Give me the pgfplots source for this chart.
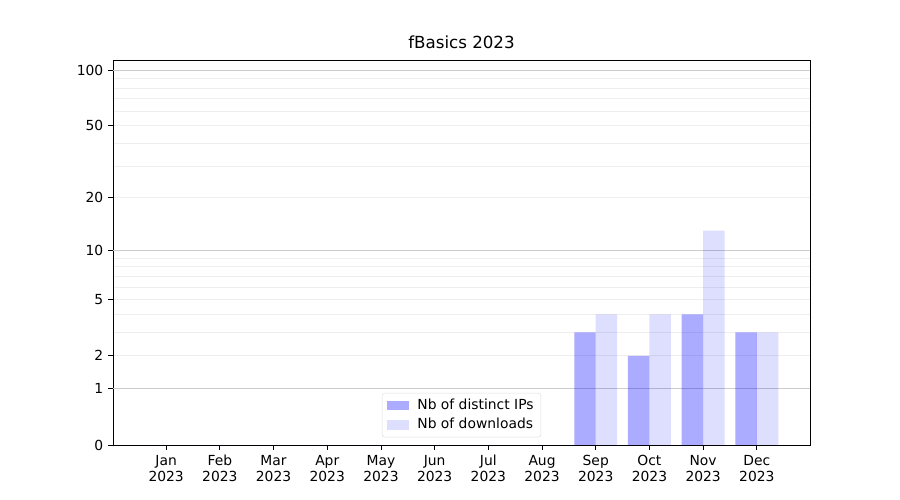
\documentclass[border=0pt]{standalone}
\usepackage{fontspec}
\setmainfont{DejaVu Sans}
\usepackage{pgfplots}
\pgfplotsset{compat=1.18}
\begin{document}
\fontsize{10.4}{12.5}\selectfont
\begin{tikzpicture}[x=0.75pt,y=0.75pt]
\begin{axis}[
  scale only axis,
  width=522.75pt, height=288.75pt,
  xmin=-0.99, xmax=11.99,
  ymin=0, ymax=113.5,
  y coord trafo/.code={\pgfmathparse{log10(1+#1)}},
  y coord inv trafo/.code={\pgfmathparse{10^(#1)-1}},
  ytick={0,1,2,5,10,20,50,100},
  yticklabels={0,1,2,5,10,20,50,100},
  minor ytick={2,3,4,5,6,7,8,9,20,30,40,50,60,70,80,90},
  yminorgrids,
  minor tick length=0pt,
  minor grid style={gray!13, line width=0.6pt},
  extra y ticks={1,10,100},
  extra y tick labels={},
  extra y tick style={grid=major, major grid style={gray!40, line width=0.6pt}},
  xtick={0,...,11},
  xticklabels={{\strut Jan\\2023},{\strut Feb\\2023},{\strut Mar\\2023},{\strut Apr\\2023},{\strut May\\2023},{\strut Jun\\2023},{\strut Jul\\2023},{\strut Aug\\2023},{\strut Sep\\2023},{\strut Oct\\2023},{\strut Nov\\2023},{\strut Dec\\2023}},
  xticklabel style={align=center, font=\fontsize{10.4}{12}\selectfont, inner ysep=1.5pt, yshift=-2pt},
  yticklabel style={font=\fontsize{10.4}{12.5}\selectfont},
  /pgf/number format/assume math mode=true,
  tick align=outside,
  major tick length=3.6pt,
  xtick pos=bottom, ytick pos=left,
  tick style={black, line width=0.6pt},
  axis line style={line width=0.6pt},
  title={fBasics 2023},
  title style={font=\fontsize{12.5}{14}\selectfont, yshift=-1pt},
  legend style={at={(0.5,0.02)}, anchor=south, draw=gray!25, rounded corners=2pt,
    font=\fontsize{10.4}{12.5}\selectfont, row sep=2pt, inner xsep=4pt, inner ysep=3pt,
    nodes={inner sep=1.5pt}},
  legend cell align=left,
  legend image code/.code={\fill[#1, sharp corners, draw=none] (0pt,-3.6pt) rectangle (16pt,3.6pt);},
]
\addplot[ybar, bar width=0.4, bar shift=-0.2, draw=none, fill=blue, fill opacity=0.33]
  coordinates {(0,0) (1,0) (2,0) (3,0) (4,0) (5,0) (6,0) (7,0) (8,3) (9,2) (10,4) (11,3)};
\addlegendentry{\hspace{5pt}Nb of distinct IPs}
\addplot[ybar, bar width=0.4, bar shift=0.2, draw=none, fill=blue, fill opacity=0.13]
  coordinates {(0,0) (1,0) (2,0) (3,0) (4,0) (5,0) (6,0) (7,0) (8,4) (9,4) (10,13) (11,3)};
\addlegendentry{\hspace{5pt}Nb of downloads}
\end{axis}
\path (current axis.south west) ++(-113,-55) coordinate (bl);
\path (current axis.north east) ++(90,60) coordinate (tr);
\useasboundingbox (bl) rectangle (tr);
\end{tikzpicture}
\end{document}
